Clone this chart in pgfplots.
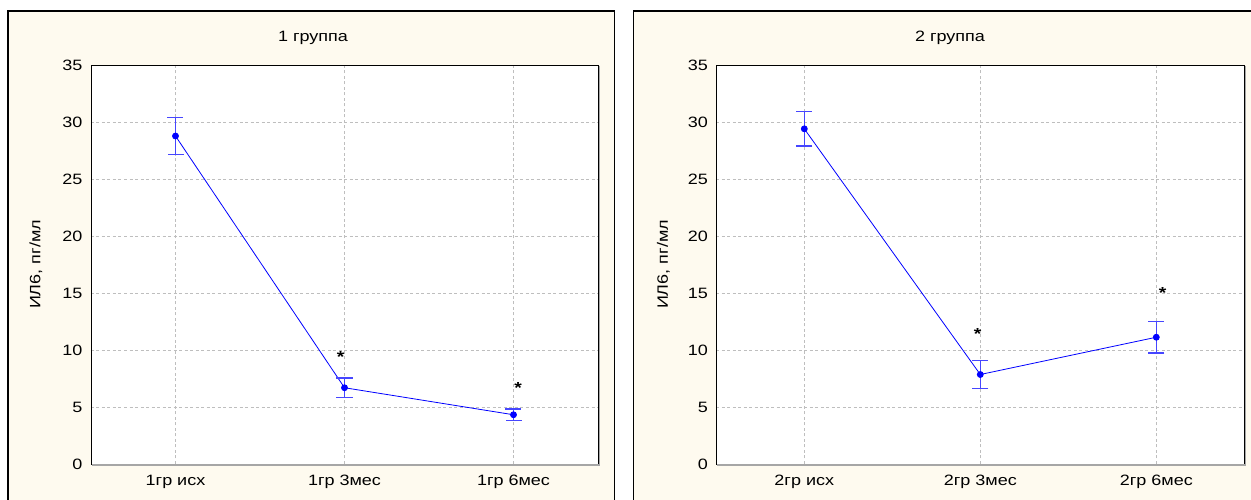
\documentclass[border=0pt]{standalone}
\usepackage{fontspec}
\setmainfont{Liberation Sans}[FakeStretch=1.2]
\usepackage{pgfplots}
\pgfplotsset{compat=1.18}
\definecolor{cream}{RGB}{254,250,239}
\definecolor{errblue}{RGB}{70,70,255}
\definecolor{gridgray}{RGB}{190,190,190}
\pgfplotsset{
  panel/.style={
    anchor=south west, scale only axis,
    height=399pt,
    xmin=-0.5, xmax=2.5, ymin=0, ymax=35,
    xtick={0,1,2}, ytick={0,5,...,35},
    grid=major,
    grid style={gridgray, line width=0.6pt, dash pattern=on 3pt off 2.5pt},
    major tick length=0pt,
    axis background/.style={fill=white},
    axis line style={black, line width=0.9pt},
    tick label style={font=\fontsize{15}{17}\selectfont, text=black},
    /pgf/number format/assume math mode=true,
    yticklabel style={xshift=-5pt},
    xticklabel style={anchor=base, yshift=-22pt},
    ylabel={ИЛ6, пг/мл},
    label style={font=\fontsize{15}{17}\selectfont},
  },
  series/.style={
    color=blue, line width=0.8pt, mark=*, mark size=3pt,
    mark options={fill=blue, draw=blue},
    error bars/.cd, y dir=both, y explicit,
    error bar style={color=errblue, line width=1.4pt},
    error mark options={rotate=90, mark size=8pt, line width=1.4pt, errblue},
  },
}
\newcommand{\sig}[2]{\node[font=\bfseries\fontsize{16}{16}\selectfont, inner sep=0pt, anchor=base, yshift=-9pt] at (axis cs:#1,#2) {*};}
\begin{document}
\begin{tikzpicture}
\path[use as bounding box] (0pt,0pt) rectangle (1251pt,500pt);
\clip (0pt,0pt) rectangle (1251pt,500pt);
\draw[fill=cream, draw=black, line width=1.5pt] (8pt,489pt) rectangle (614.3pt,-20pt);
\draw[fill=cream, draw=black, line width=1.5pt] (633.3pt,489pt) rectangle (1290pt,-20pt);
\node[font=\fontsize{15}{17}\selectfont] at (313pt,462pt) {1 группа};
\node[font=\fontsize{15}{17}\selectfont] at (950pt,462pt) {2 группа};

\begin{axis}[panel, name=ax1, at={(91pt,36pt)}, width=507pt,
  xticklabels={1гр исх,1гр 3мес,1гр 6мес},
  ylabel style={at={(axis description cs:-0.1085,0.5)}, anchor=center}]
\addplot[series] coordinates {
  (0,28.77) +- (0,1.63)
  (1,6.69)  +- (0,0.86)
  (2,4.32)  +- (0,0.52)
};
\sig{0.977}{9.71}
\sig{2.028}{6.99}
\end{axis}
\draw[gray!70, line width=1.2pt] ([xshift=1.3pt,yshift=-1pt]ax1.north east) -- ([xshift=1.3pt,yshift=-1.1pt]ax1.south east) -- ([xshift=1pt,yshift=-1.1pt]ax1.south west);

\begin{axis}[panel, name=ax2, at={(716.3pt,36pt)}, width=528pt,
  xticklabels={2гр исх,2гр 3мес,2гр 6мес},
  ylabel style={at={(axis description cs:-0.1,0.5)}, anchor=center}]
\addplot[series] coordinates {
  (0,29.40) +- (0,1.52)
  (1,7.85)  +- (0,1.24)
  (2,11.12) +- (0,1.39)
};
\sig{0.985}{11.73}
\sig{2.036}{15.29}
\end{axis}
\draw[gray!70, line width=1.2pt] ([xshift=1.3pt,yshift=-1pt]ax2.north east) -- ([xshift=1.3pt,yshift=-1.1pt]ax2.south east) -- ([xshift=1pt,yshift=-1.1pt]ax2.south west);
\end{tikzpicture}
\end{document}
